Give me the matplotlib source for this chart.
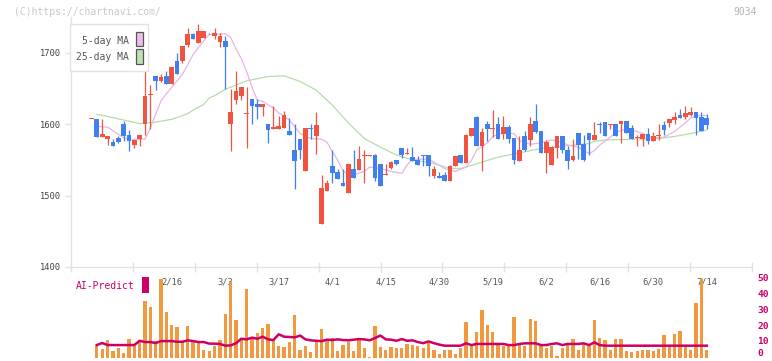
import matplotlib
matplotlib.use('Agg')
import matplotlib.pyplot as plt
import matplotlib.transforms as mtransforms
from matplotlib.patches import Rectangle
import numpy as np

# ─── Data ───
opens = [1607, 1607, 1582, 1580, 1575, 1581, 1601, 1585, 1571, 1580,
         1600, 1641, 1668, 1661, 1668, 1657, 1689, 1689, 1711, 1726,
         1714, 1721, 1727, 1724, 1716, 1717, 1601, 1634, 1640, 1614,
         1636, 1628, 1624, 1600, 1593, 1593, 1595, 1591, 1564, 1579,
         1534, 1595, 1584, 1460, 1507, 1541, 1533, 1518, 1504, 1537,
         1536, 1556, 1556, 1557, 1544, 1529, 1539, 1550, 1567, 1558,
         1554, 1550, 1557, 1557, 1528, 1528, 1529, 1521, 1542, 1557,
         1546, 1584, 1610, 1570, 1600, 1593, 1600, 1586, 1596, 1581,
         1548, 1584, 1578, 1605, 1591, 1560, 1543, 1567, 1583, 1564,
         1550, 1588, 1572, 1588, 1578, 1600, 1603, 1599, 1600, 1600,
         1604, 1595, 1581, 1580, 1587, 1577, 1583, 1599, 1602, 1606,
         1613, 1610, 1613, 1617, 1610, 1609]
highs = [1607, 1607, 1607, 1584, 1579, 1584, 1604, 1592, 1578, 1585,
         1700, 1655, 1668, 1671, 1675, 1680, 1700, 1710, 1735, 1728,
         1740, 1731, 1728, 1735, 1728, 1724, 1649, 1675, 1653, 1653,
         1636, 1636, 1628, 1600, 1626, 1611, 1619, 1609, 1600, 1579,
         1595, 1600, 1617, 1529, 1522, 1564, 1538, 1538, 1545, 1564,
         1570, 1564, 1557, 1558, 1544, 1544, 1549, 1550, 1567, 1567,
         1568, 1556, 1557, 1557, 1542, 1533, 1533, 1543, 1555, 1557,
         1587, 1595, 1612, 1595, 1605, 1620, 1610, 1612, 1599, 1581,
         1584, 1590, 1610, 1629, 1591, 1578, 1570, 1583, 1583, 1569,
         1579, 1588, 1585, 1588, 1603, 1603, 1603, 1601, 1600, 1604,
         1604, 1599, 1585, 1587, 1595, 1589, 1601, 1605, 1608, 1617,
         1621, 1625, 1624, 1617, 1617, 1615]
lows = [1607, 1582, 1582, 1571, 1570, 1574, 1577, 1563, 1567, 1569,
        1585, 1593, 1648, 1659, 1657, 1657, 1671, 1686, 1708, 1720,
        1714, 1721, 1726, 1720, 1709, 1649, 1562, 1629, 1634, 1567,
        1601, 1607, 1612, 1574, 1593, 1593, 1595, 1585, 1509, 1551,
        1534, 1580, 1559, 1460, 1507, 1517, 1523, 1514, 1504, 1524,
        1536, 1518, 1556, 1521, 1514, 1529, 1537, 1543, 1553, 1558,
        1549, 1543, 1541, 1528, 1524, 1524, 1521, 1521, 1542, 1546,
        1546, 1584, 1570, 1535, 1577, 1582, 1580, 1579, 1574, 1544,
        1548, 1563, 1569, 1588, 1560, 1531, 1543, 1553, 1560, 1537,
        1548, 1551, 1549, 1557, 1578, 1588, 1583, 1594, 1584, 1574,
        1588, 1580, 1570, 1569, 1572, 1577, 1578, 1585, 1596, 1600,
        1609, 1607, 1612, 1585, 1591, 1593]
closes = [1607, 1582, 1586, 1584, 1570, 1575, 1584, 1577, 1578, 1585,
          1640, 1641, 1661, 1666, 1657, 1680, 1671, 1710, 1726, 1720,
          1731, 1731, 1726, 1728, 1724, 1709, 1617, 1647, 1653, 1614,
          1625, 1624, 1628, 1592, 1596, 1597, 1613, 1585, 1549, 1564,
          1595, 1593, 1599, 1510, 1517, 1532, 1523, 1514, 1545, 1524,
          1551, 1557, 1557, 1524, 1514, 1530, 1547, 1545, 1557, 1559,
          1549, 1543, 1555, 1541, 1538, 1524, 1521, 1542, 1555, 1546,
          1585, 1595, 1570, 1589, 1593, 1594, 1580, 1596, 1580, 1550,
          1564, 1564, 1600, 1589, 1560, 1575, 1568, 1583, 1564, 1549,
          1555, 1571, 1550, 1578, 1585, 1599, 1583, 1600, 1584, 1604,
          1588, 1580, 1582, 1586, 1577, 1584, 1585, 1592, 1608, 1610,
          1609, 1616, 1617, 1609, 1591, 1599]

ma5_idx = [1, 3, 5, 6, 7, 10, 11, 13, 14, 15, 17, 19, 20, 22, 25, 26, 27, 28,
           29, 30, 31, 32, 34, 35, 37, 39, 41, 43, 44, 45, 46, 47, 48, 49, 51,
           52, 54, 56, 58, 59, 60, 63, 64, 66, 68, 70, 71, 72, 74, 75, 77, 79,
           80, 82, 84, 86, 88, 89, 91, 93, 94, 95, 97, 98, 100, 102, 104, 105,
           107, 109, 111, 112, 114, 115]
ma5_val = [1597, 1596, 1586, 1581, 1579, 1579, 1595, 1633, 1643, 1652, 1670,
           1698, 1708, 1726, 1727, 1722, 1706, 1692, 1674, 1652, 1634, 1632,
           1623, 1616, 1606, 1587, 1580, 1579, 1575, 1562, 1550, 1535, 1529,
           1529, 1534, 1540, 1538, 1534, 1531, 1543, 1551, 1551, 1547, 1538,
           1534, 1540, 1549, 1564, 1574, 1583, 1588, 1587, 1577, 1572, 1574,
           1578, 1575, 1571, 1568, 1559, 1563, 1571, 1582, 1589, 1593, 1590,
           1584, 1581, 1582, 1590, 1602, 1609, 1613, 1612]

ma25_idx = [1, 3, 6, 9, 12, 15, 18, 19, 21, 22, 23, 25, 29, 33, 36, 39, 42,
            45, 48, 51, 54, 57, 60, 64, 67, 69, 70, 73, 76, 80, 84, 89, 93,
            94, 96, 106, 109, 112, 115]
ma25_val = [1614, 1611, 1606, 1601, 1603, 1607, 1615, 1620, 1628, 1637, 1640,
            1649, 1661, 1667, 1668, 1660, 1648, 1627, 1602, 1580, 1568, 1557,
            1550, 1545, 1538, 1538, 1540, 1547, 1554, 1560, 1566, 1570, 1573,
            1576, 1578, 1580, 1583, 1587, 1592]

volume = [0, 8.0, 5.5, 11.2, 4.4, 6.1, 3.0, 11.8, 7.4, 9.9,
          35.9, 32.1, 10.5, 49.8, 28.9, 20.7, 19.4, 10.5, 20.1, 10.5,
          9.1, 5.1, 4.4, 7.2, 11.0, 27.9, 47.9, 23.9, 12.5, 43.5,
          11.8, 15.8, 18.8, 21.6, 11.8, 7.4, 6.8, 10.1, 27.3, 5.1,
          7.4, 3.8, 10.5, 18.2, 10.5, 12.5, 4.4, 8.0, 9.9, 4.4,
          11.2, 6.1, 0.6, 20.1, 6.8, 5.1, 6.8, 6.1, 6.1, 8.6,
          8.3, 7.7, 6.1, 9.2, 4.9, 2.4, 4.9, 4.9, 2.4, 6.1,
          22.6, 7.4, 16.2, 30.2, 20.7, 16.2, 8.0, 7.4, 8.0, 25.8,
          8.0, 7.4, 24.5, 23.2, 7.4, 6.1, 7.4, 1.1, 6.1, 8.6,
          11.8, 4.9, 8.6, 7.4, 23.9, 12.5, 11.2, 4.9, 11.8, 11.8,
          4.2, 3.6, 4.2, 4.9, 4.9, 4.2, 5.5, 14.4, 7.4, 15.0,
          16.9, 7.4, 4.9, 34.6, 50.5, 4.9]

# AI-Predict, from day 1 onward
ai_predict = [8.0, 9.3, 8.0, 8.0, 8.0, 8.0, 8.0, 8.0,
              10.7, 9.9, 9.9, 9.3, 10.5, 10.5, 10.5, 10.1,
              10.1, 11.0, 10.5, 9.9, 9.9, 8.9, 8.9, 8.7,
              7.6, 7.8, 9.1, 12.0, 11.6, 12.7, 12.0, 13.3,
              11.6, 11.2, 14.8, 13.3, 13.1, 12.9, 14.0, 11.6,
              11.0, 10.7, 10.5, 11.4, 11.2, 11.6, 11.2, 11.0,
              11.4, 11.8, 11.6, 11.0, 12.5, 14.0, 11.6, 11.4,
              10.7, 11.8, 10.7, 11.0, 9.9, 9.2, 10.3, 9.2,
              8.3, 7.6, 7.6, 7.6, 7.6, 9.1, 8.0, 8.7,
              8.7, 8.7, 8.7, 8.7, 8.7, 8.0, 8.0, 8.7,
              9.1, 9.1, 9.1, 8.0, 8.0, 8.7, 9.1, 8.0,
              8.7, 8.7, 8.7, 9.1, 8.0, 9.7, 8.0, 7.6,
              7.6, 7.6, 7.6, 7.6, 7.6, 7.6, 7.6, 7.6, 7.6, 7.6,
              7.6, 7.6, 7.6, 7.6, 7.6, 7.6, 7.6, 7.6, 7.6]

date_idx = [15, 25, 35, 45, 55, 65, 75, 85, 95, 105, 115]
date_labels = ['2/16', '3/3', '3/17', '4/1', '4/15', '4/30',
               '5/19', '6/2', '6/16', '6/30', '7/14']
price_ticks = [1400, 1500, 1600, 1700]
vol_ticks = [0, 10, 20, 30, 40, 50]

# ─── Style ───
RED = '#f0533f'
BLUE = '#3f7ff0'
PINK = '#e8b4e8'
GREEN = '#b6dcaa'
ORANGE = '#f2993f'
MAGENTA = '#cc0066'
GRID = '#e2e2e2'
MONO = 'DejaVu Sans Mono'

W, H = 772, 361
fig = plt.figure(figsize=(W / 100, H / 100), dpi=100)


def box(l, t, r, b):
    return [l / W, 1 - b / H, (r - l) / W, (b - t) / H]


X0, X1 = -3.83, 123.46

ax = fig.add_axes(box(71, 17.35, 752, 266.9))
ax2 = fig.add_axes(box(71, 278.7, 752, 357.7))

o = np.array(opens, float)
h = np.array(highs, float)
l = np.array(lows, float)
c = np.array(closes, float)
idx = np.arange(len(o))
up = c >= o
cols = np.where(up, RED, BLUE)

# ─── Price panel ───
ax.plot(ma25_idx, ma25_val, color=GREEN, lw=0.9, zorder=1)
ax.plot(ma5_idx, ma5_val, color=PINK, lw=0.9, zorder=1)
ax.vlines(idx, l, h, colors=cols, lw=0.9, zorder=2)
body_bot = np.minimum(o, c)
body_h = np.maximum(np.abs(c - o), 1.2)
ax.bar(idx, body_h, bottom=body_bot, width=0.88, color=cols, zorder=3)

ax.set_xlim(X0, X1)
ax.set_ylim(1400, 1750)
for s in ['top', 'right']:
    ax.spines[s].set_visible(False)
for s in ['left', 'bottom']:
    ax.spines[s].set_color(GRID)
    ax.spines[s].set_linewidth(1)
ax.set_yticks(price_ticks)
ax.set_yticklabels([str(t) for t in price_ticks], fontfamily=MONO,
                   fontsize=6.3, color='#444444')
ax.tick_params(axis='y', length=4.5, width=1, color=GRID, pad=3)
ax.set_xticks(np.linspace(X0, X1, 12))
ax.set_xticklabels([])
ax.tick_params(axis='x', direction='inout', length=7, width=1, color=GRID)

# ─── Volume panel ───
ax2.bar(idx, volume, width=0.62, color=ORANGE, zorder=2)
ax2.plot(idx[1:], ai_predict, color=MAGENTA, lw=1.8, zorder=3)
ax2.set_xlim(X0, X1)
ax2.set_ylim(0, 50)
for s in ax2.spines.values():
    s.set_visible(False)
ax2.set_xticks([])
ax2.set_yticks([])

# right-hand volume labels (bottom one lifted so it stays inside the image)
rtrans = mtransforms.blended_transform_factory(ax2.transAxes, ax2.transData)
for t in vol_ticks:
    ax2.text(1 + 5 / 681, t, str(t), transform=rtrans, ha='left',
             va='bottom' if t == 0 else 'center', fontfamily=MONO,
             fontsize=6.8, color=MAGENTA, fontweight='bold', clip_on=False)

trans = mtransforms.blended_transform_factory(ax2.transData, ax2.transAxes)
for i, lab in zip(date_idx, date_labels):
    ax2.text(i, (357.7 - 282) / 79, lab, transform=trans, ha='center',
             va='center', fontfamily=MONO, fontsize=6.3, color='#555555',
             zorder=1)

# ─── Labels and legends ───
fig.text(76 / W, 1 - 286 / H, 'AI-Predict', fontfamily=MONO, fontsize=7,
         color=MAGENTA, ha='left', va='center')
fig.patches.append(Rectangle((142 / W, 1 - 292.7 / H), 7 / W, 16 / H,
                             transform=fig.transFigure, color=MAGENTA,
                             lw=0))

fig.patches.append(Rectangle((70 / W, 1 - 71 / H), 78 / W, 47 / H,
                             transform=fig.transFigure, facecolor='white',
                             edgecolor=GRID, lw=1, zorder=5))
fig.text(129 / W, 1 - 40.5 / H, '5-day MA', fontfamily=MONO, fontsize=7,
         color='#555555', ha='right', va='center', zorder=6)
fig.text(129 / W, 1 - 57 / H, '25-day MA', fontfamily=MONO, fontsize=7,
         color='#555555', ha='right', va='center', zorder=6)
fig.patches.append(Rectangle((136 / W, 1 - 46 / H), 6.5 / W, 14.5 / H,
                             transform=fig.transFigure, facecolor='#ecbcec',
                             edgecolor='#555555', lw=0.9, zorder=6))
fig.patches.append(Rectangle((136 / W, 1 - 63.5 / H), 6.5 / W, 14.5 / H,
                             transform=fig.transFigure, facecolor='#bfe0b5',
                             edgecolor='#555555', lw=0.9, zorder=6))

fig.text(14 / W, 1 - 12 / H, '(C)https://chartnavi.com/', fontfamily=MONO,
         fontsize=7, color='#c8c8c8', ha='left', va='center')
fig.text(757 / W, 1 - 12 / H, '9034', fontfamily=MONO, fontsize=7,
         color='#b4b4b4', ha='right', va='center')

fig.savefig('out.png', dpi=100)
